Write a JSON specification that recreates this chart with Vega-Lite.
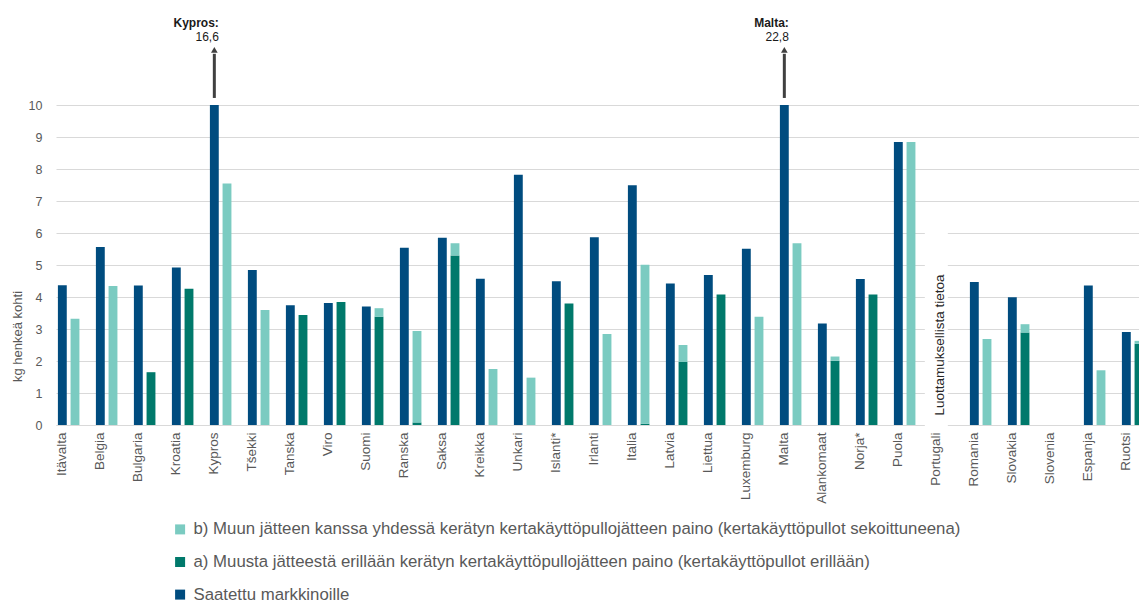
{
  "$schema": "https://vega.github.io/schema/vega-lite/v6.json",
  "width": 1083,
  "height": 320,
  "autosize": {"type": "none"},
  "padding": {"left": 56, "top": 105, "right": 0, "bottom": 178},
  "background": "white",
  "config": {"view": {"stroke": null}, "font": "Liberation Sans"},
  "datasets": {
    "bars": [
      {"country": "Itävalta", "grp": "market", "series": "Saatettu markkinoille", "value": 4.37},
      {"country": "Itävalta", "grp": "waste", "series": "b) Muun jätteen kanssa yhdessä kerätyn kertakäyttöpullojätteen paino (kertakäyttöpullot sekoittuneena)", "value": 3.32},
      {"country": "Belgia", "grp": "market", "series": "Saatettu markkinoille", "value": 5.56},
      {"country": "Belgia", "grp": "waste", "series": "b) Muun jätteen kanssa yhdessä kerätyn kertakäyttöpullojätteen paino (kertakäyttöpullot sekoittuneena)", "value": 4.34},
      {"country": "Bulgaria", "grp": "market", "series": "Saatettu markkinoille", "value": 4.36},
      {"country": "Bulgaria", "grp": "waste", "series": "a) Muusta jätteestä erillään kerätyn kertakäyttöpullojätteen paino (kertakäyttöpullot erillään)", "value": 1.65},
      {"country": "Kroatia", "grp": "market", "series": "Saatettu markkinoille", "value": 4.92},
      {"country": "Kroatia", "grp": "waste", "series": "a) Muusta jätteestä erillään kerätyn kertakäyttöpullojätteen paino (kertakäyttöpullot erillään)", "value": 4.26},
      {"country": "Kypros", "grp": "market", "series": "Saatettu markkinoille", "value": 16.6},
      {"country": "Kypros", "grp": "waste", "series": "b) Muun jätteen kanssa yhdessä kerätyn kertakäyttöpullojätteen paino (kertakäyttöpullot sekoittuneena)", "value": 7.55},
      {"country": "Tšekki", "grp": "market", "series": "Saatettu markkinoille", "value": 4.84},
      {"country": "Tšekki", "grp": "waste", "series": "b) Muun jätteen kanssa yhdessä kerätyn kertakäyttöpullojätteen paino (kertakäyttöpullot sekoittuneena)", "value": 3.59},
      {"country": "Tanska", "grp": "market", "series": "Saatettu markkinoille", "value": 3.74},
      {"country": "Tanska", "grp": "waste", "series": "a) Muusta jätteestä erillään kerätyn kertakäyttöpullojätteen paino (kertakäyttöpullot erillään)", "value": 3.44},
      {"country": "Viro", "grp": "market", "series": "Saatettu markkinoille", "value": 3.81},
      {"country": "Viro", "grp": "waste", "series": "a) Muusta jätteestä erillään kerätyn kertakäyttöpullojätteen paino (kertakäyttöpullot erillään)", "value": 3.84},
      {"country": "Suomi", "grp": "market", "series": "Saatettu markkinoille", "value": 3.70},
      {"country": "Suomi", "grp": "waste", "series": "a) Muusta jätteestä erillään kerätyn kertakäyttöpullojätteen paino (kertakäyttöpullot erillään)", "value": 3.38},
      {"country": "Suomi", "grp": "waste", "series": "b) Muun jätteen kanssa yhdessä kerätyn kertakäyttöpullojätteen paino (kertakäyttöpullot sekoittuneena)", "value": 0.27},
      {"country": "Ranska", "grp": "market", "series": "Saatettu markkinoille", "value": 5.54},
      {"country": "Ranska", "grp": "waste", "series": "a) Muusta jätteestä erillään kerätyn kertakäyttöpullojätteen paino (kertakäyttöpullot erillään)", "value": 0.08},
      {"country": "Ranska", "grp": "waste", "series": "b) Muun jätteen kanssa yhdessä kerätyn kertakäyttöpullojätteen paino (kertakäyttöpullot sekoittuneena)", "value": 2.86},
      {"country": "Saksa", "grp": "market", "series": "Saatettu markkinoille", "value": 5.85},
      {"country": "Saksa", "grp": "waste", "series": "a) Muusta jätteestä erillään kerätyn kertakäyttöpullojätteen paino (kertakäyttöpullot erillään)", "value": 5.30},
      {"country": "Saksa", "grp": "waste", "series": "b) Muun jätteen kanssa yhdessä kerätyn kertakäyttöpullojätteen paino (kertakäyttöpullot sekoittuneena)", "value": 0.38},
      {"country": "Kreikka", "grp": "market", "series": "Saatettu markkinoille", "value": 4.57},
      {"country": "Kreikka", "grp": "waste", "series": "b) Muun jätteen kanssa yhdessä kerätyn kertakäyttöpullojätteen paino (kertakäyttöpullot sekoittuneena)", "value": 1.75},
      {"country": "Unkari", "grp": "market", "series": "Saatettu markkinoille", "value": 7.82},
      {"country": "Unkari", "grp": "waste", "series": "b) Muun jätteen kanssa yhdessä kerätyn kertakäyttöpullojätteen paino (kertakäyttöpullot sekoittuneena)", "value": 1.48},
      {"country": "Islanti*", "grp": "market", "series": "Saatettu markkinoille", "value": 4.49},
      {"country": "Islanti*", "grp": "waste", "series": "a) Muusta jätteestä erillään kerätyn kertakäyttöpullojätteen paino (kertakäyttöpullot erillään)", "value": 3.80},
      {"country": "Irlanti", "grp": "market", "series": "Saatettu markkinoille", "value": 5.87},
      {"country": "Irlanti", "grp": "waste", "series": "b) Muun jätteen kanssa yhdessä kerätyn kertakäyttöpullojätteen paino (kertakäyttöpullot sekoittuneena)", "value": 2.84},
      {"country": "Italia", "grp": "market", "series": "Saatettu markkinoille", "value": 7.49},
      {"country": "Italia", "grp": "waste", "series": "a) Muusta jätteestä erillään kerätyn kertakäyttöpullojätteen paino (kertakäyttöpullot erillään)", "value": 0.04},
      {"country": "Italia", "grp": "waste", "series": "b) Muun jätteen kanssa yhdessä kerätyn kertakäyttöpullojätteen paino (kertakäyttöpullot sekoittuneena)", "value": 4.97},
      {"country": "Latvia", "grp": "market", "series": "Saatettu markkinoille", "value": 4.42},
      {"country": "Latvia", "grp": "waste", "series": "a) Muusta jätteestä erillään kerätyn kertakäyttöpullojätteen paino (kertakäyttöpullot erillään)", "value": 1.97},
      {"country": "Latvia", "grp": "waste", "series": "b) Muun jätteen kanssa yhdessä kerätyn kertakäyttöpullojätteen paino (kertakäyttöpullot sekoittuneena)", "value": 0.53},
      {"country": "Liettua", "grp": "market", "series": "Saatettu markkinoille", "value": 4.69},
      {"country": "Liettua", "grp": "waste", "series": "a) Muusta jätteestä erillään kerätyn kertakäyttöpullojätteen paino (kertakäyttöpullot erillään)", "value": 4.08},
      {"country": "Luxemburg", "grp": "market", "series": "Saatettu markkinoille", "value": 5.51},
      {"country": "Luxemburg", "grp": "waste", "series": "b) Muun jätteen kanssa yhdessä kerätyn kertakäyttöpullojätteen paino (kertakäyttöpullot sekoittuneena)", "value": 3.38},
      {"country": "Malta", "grp": "market", "series": "Saatettu markkinoille", "value": 22.8},
      {"country": "Malta", "grp": "waste", "series": "b) Muun jätteen kanssa yhdessä kerätyn kertakäyttöpullojätteen paino (kertakäyttöpullot sekoittuneena)", "value": 5.68},
      {"country": "Alankomaat", "grp": "market", "series": "Saatettu markkinoille", "value": 3.17},
      {"country": "Alankomaat", "grp": "waste", "series": "a) Muusta jätteestä erillään kerätyn kertakäyttöpullojätteen paino (kertakäyttöpullot erillään)", "value": 2.01},
      {"country": "Alankomaat", "grp": "waste", "series": "b) Muun jätteen kanssa yhdessä kerätyn kertakäyttöpullojätteen paino (kertakäyttöpullot sekoittuneena)", "value": 0.13},
      {"country": "Norja*", "grp": "market", "series": "Saatettu markkinoille", "value": 4.56},
      {"country": "Norja*", "grp": "waste", "series": "a) Muusta jätteestä erillään kerätyn kertakäyttöpullojätteen paino (kertakäyttöpullot erillään)", "value": 4.08},
      {"country": "Puola", "grp": "market", "series": "Saatettu markkinoille", "value": 8.84},
      {"country": "Puola", "grp": "waste", "series": "b) Muun jätteen kanssa yhdessä kerätyn kertakäyttöpullojätteen paino (kertakäyttöpullot sekoittuneena)", "value": 8.84},
      {"country": "Romania", "grp": "market", "series": "Saatettu markkinoille", "value": 4.47},
      {"country": "Romania", "grp": "waste", "series": "b) Muun jätteen kanssa yhdessä kerätyn kertakäyttöpullojätteen paino (kertakäyttöpullot sekoittuneena)", "value": 2.69},
      {"country": "Slovakia", "grp": "market", "series": "Saatettu markkinoille", "value": 3.99},
      {"country": "Slovakia", "grp": "waste", "series": "a) Muusta jätteestä erillään kerätyn kertakäyttöpullojätteen paino (kertakäyttöpullot erillään)", "value": 2.89},
      {"country": "Slovakia", "grp": "waste", "series": "b) Muun jätteen kanssa yhdessä kerätyn kertakäyttöpullojätteen paino (kertakäyttöpullot sekoittuneena)", "value": 0.26},
      {"country": "Espanja", "grp": "market", "series": "Saatettu markkinoille", "value": 4.36},
      {"country": "Espanja", "grp": "waste", "series": "b) Muun jätteen kanssa yhdessä kerätyn kertakäyttöpullojätteen paino (kertakäyttöpullot sekoittuneena)", "value": 1.71},
      {"country": "Ruotsi", "grp": "market", "series": "Saatettu markkinoille", "value": 2.91},
      {"country": "Ruotsi", "grp": "waste", "series": "a) Muusta jätteestä erillään kerätyn kertakäyttöpullojätteen paino (kertakäyttöpullot erillään)", "value": 2.54},
      {"country": "Ruotsi", "grp": "waste", "series": "b) Muun jätteen kanssa yhdessä kerätyn kertakäyttöpullojätteen paino (kertakäyttöpullot sekoittuneena)", "value": 0.09}
    ],
    "outliers": [
      {"country": "Kypros", "grp": "market", "label": "Kypros:", "actual": "16,6"},
      {"country": "Malta", "grp": "market", "label": "Malta:", "actual": "22,8"}
    ],
    "notes": [
      {"country": "Portugali", "grp": "market", "note": "Luottamuksellista tietoa"}
    ]
  },
  "layer": [
    {
      "data": {"name": "bars"},
      "transform": [
        {"stack": "value", "groupby": ["country", "grp"], "sort": [{"field": "series", "order": "ascending"}], "as": ["v0", "v1"]}
      ],
      "mark": {"type": "bar"},
      "encoding": {
        "x": {
          "field": "country", "type": "nominal",
          "scale": {
            "domain": ["Itävalta", "Belgia", "Bulgaria", "Kroatia", "Kypros", "Tšekki", "Tanska", "Viro", "Suomi", "Ranska", "Saksa", "Kreikka", "Unkari", "Islanti*", "Irlanti", "Italia", "Latvia", "Liettua", "Luxemburg", "Malta", "Alankomaat", "Norja*", "Puola", "Portugali", "Romania", "Slovakia", "Slovenia", "Espanja", "Ruotsi"],
            "range": [0, 1102], "paddingInner": 0, "paddingOuter": 0
          },
          "axis": {
            "title": null, "labelAngle": 270, "labelPadding": 7, "ticks": false,
            "domainColor": "#d9d9d9", "domainWidth": 1, "labelFontSize": 13.5, "labelColor": "#595959",
            "labelOffset": -12.67, "grid": false, "labelLimit": 200
          }
        },
        "xOffset": {
          "field": "grp", "type": "nominal",
          "scale": {"domain": ["market", "waste", "spacer"], "paddingInner": 0.3, "paddingOuter": 0.15}
        },
        "y": {
          "field": "v1", "type": "quantitative",
          "scale": {"domain": [0, 10], "clamp": true, "nice": false},
          "axis": {
            "values": [0, 1, 2, 3, 4, 5, 6, 7, 8, 9, 10], "grid": true, "gridColor": "#d9d9d9", "gridWidth": 1,
            "domain": false, "ticks": false, "labelPadding": 14, "labelFontSize": 12.5, "labelColor": "#595959",
            "title": "kg henkeä kohti", "titleFontSize": 13, "titleFontWeight": "normal", "titleColor": "#595959",
            "titleX": -34.5, "titleY": 231, "titleAngle": 270, "titleAlign": "center", "titleBaseline": "alphabetic"
          }
        },
        "y2": {"field": "v0"},
        "color": {
          "field": "series", "type": "nominal",
          "scale": {
            "domain": ["b) Muun jätteen kanssa yhdessä kerätyn kertakäyttöpullojätteen paino (kertakäyttöpullot sekoittuneena)", "a) Muusta jätteestä erillään kerätyn kertakäyttöpullojätteen paino (kertakäyttöpullot erillään)", "Saatettu markkinoille"],
            "range": ["#7bcbc1", "#00796b", "#004c7f"]
          },
          "legend": {
            "orient": "none", "legendX": 115.7, "legendY": 416, "direction": "vertical", "title": null,
            "symbolType": "square", "symbolSize": 100, "symbolStrokeWidth": 0,
            "labelFont": "Liberation Sans", "labelFontSize": 16.8, "labelColor": "#595959",
            "rowPadding": 14.6, "labelOffset": 5, "labelLimit": 1000, "padding": 0
          }
        }
      }
    },
    {
      "layer": [
        {
          "data": {"name": "notes"},
          "mark": {"type": "bar", "color": "white", "width": 23},
          "encoding": {
            "x": {"field": "country", "type": "nominal"},
            "xOffset": {"field": "grp", "type": "nominal"},
            "y": {"datum": -0.06, "type": "quantitative", "scale": {"domain": [0, 10], "nice": false}, "axis": null},
            "y2": {"datum": 6.2}
          }
        },
        {
          "data": {"name": "notes"},
          "mark": {"type": "text", "angle": 270, "align": "center", "baseline": "middle", "fontSize": 13.5, "color": "#262626", "dy": 3.5},
          "encoding": {
            "x": {"field": "country", "type": "nominal"},
            "xOffset": {"field": "grp", "type": "nominal"},
            "y": {"datum": 2.5, "type": "quantitative", "scale": {"domain": [0, 10], "nice": false}, "axis": null},
            "text": {"field": "note"}
          }
        },
        {
          "data": {"name": "outliers"},
          "mark": {"type": "rule", "color": "#404040", "strokeWidth": 3},
          "encoding": {
            "x": {"field": "country", "type": "nominal"},
            "xOffset": {"field": "grp", "type": "nominal"},
            "y": {"datum": 10.22, "type": "quantitative", "scale": {"domain": [0, 10], "nice": false}, "axis": null},
            "y2": {"datum": 11.6}
          }
        },
        {
          "data": {"name": "outliers"},
          "mark": {"type": "point", "shape": "triangle-up", "filled": true, "color": "#404040", "opacity": 1, "size": 45},
          "encoding": {
            "x": {"field": "country", "type": "nominal"},
            "xOffset": {"field": "grp", "type": "nominal"},
            "y": {"datum": 11.72, "type": "quantitative", "scale": {"domain": [0, 10], "nice": false}, "axis": null}
          }
        },
        {
          "data": {"name": "outliers"},
          "mark": {"type": "text", "align": "right", "baseline": "alphabetic", "font": "Liberation Sans", "fontWeight": "bold", "fontSize": 12, "color": "#1a1a1a", "dx": 4.5},
          "encoding": {
            "x": {"field": "country", "type": "nominal"},
            "xOffset": {"field": "grp", "type": "nominal"},
            "y": {"datum": 12.45, "type": "quantitative", "scale": {"domain": [0, 10], "nice": false}, "axis": null},
            "text": {"field": "label"}
          }
        },
        {
          "data": {"name": "outliers"},
          "mark": {"type": "text", "align": "right", "baseline": "alphabetic", "font": "Liberation Sans", "fontSize": 12, "color": "#1a1a1a", "dx": 4.5},
          "encoding": {
            "x": {"field": "country", "type": "nominal"},
            "xOffset": {"field": "grp", "type": "nominal"},
            "y": {"datum": 12.0, "type": "quantitative", "scale": {"domain": [0, 10], "nice": false}, "axis": null},
            "text": {"field": "actual"}
          }
        }
      ]
    }
  ],
  "resolve": {"scale": {"y": "independent"}}
}
